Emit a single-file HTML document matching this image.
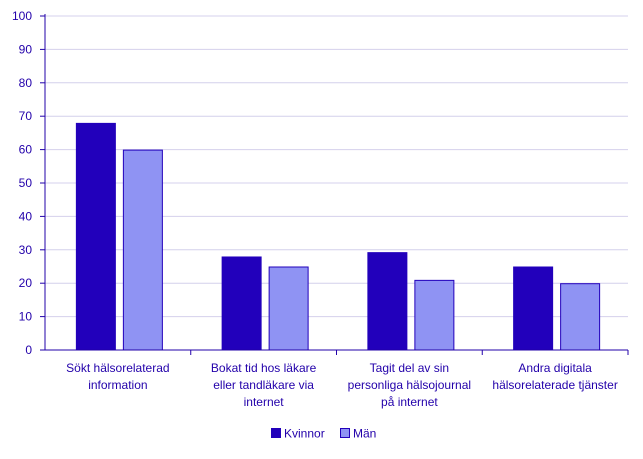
<!DOCTYPE html>
<html><head><meta charset="utf-8"><style>
body{margin:0;background:#fff;}
svg text{font-family:"Liberation Sans",sans-serif;font-size:12px;}
</style></head><body>
<svg id="chart" width="643" height="454" xmlns="http://www.w3.org/2000/svg"></svg>
<script>
const categories=[["Sökt hälsorelaterad","information"],["Bokat tid hos läkare","eller tandläkare via","internet"],["Tagit del av sin","personliga hälsojournal","på internet"],["Andra digitala","hälsorelaterade tjänster"]];
const kvinnor=[68,28,29.3,25];
const man=[60,25,21,20];
const yTicks=[0,10,20,30,40,50,60,70,80,90,100];
const seriesNames=["Kvinnor","Män"];
const svg=document.getElementById('chart');
const NS="http://www.w3.org/2000/svg";
const x0=45,x1=628,yTop=16,yBot=350;
const y=v=>yBot-(v/100)*(yBot-yTop);
const bw=(x1-x0)/categories.length;
function mk(tag,attrs,text){const e=document.createElementNS(NS,tag);for(const k in attrs)e.setAttribute(k,attrs[k]);if(text!==undefined)e.textContent=text;svg.appendChild(e);return e;}
yTicks.forEach(t=>{
  if(t>0){const g=mk('line',{x1:x0,x2:x1,y1:y(t),y2:y(t),stroke:'#d4d0ec','stroke-width':1});
  
  }
  const tk=mk('line',{x1:x0-5,x2:x0,y1:y(t),y2:y(t),stroke:'#2200aa'});
  
  
  const l=mk('text',{x:x0-13,y:y(t)+4,'text-anchor':'end',fill:'#2200aa'},t);
  
  
});
const ya=mk('line',{x1:x0,x2:x0,y1:yTop-2,y2:yBot,stroke:'#2200aa'});


categories.forEach((c,i)=>{
  const cx=x0+bw*(i+0.5);
  const b1=mk('rect',{x:cx-42,y:y(kvinnor[i]),width:40,height:yBot-y(kvinnor[i]),fill:'#2200bb'});
  
  
  const b2=mk('rect',{x:cx+5.5,y:y(man[i])+0.5,width:39,height:yBot-y(man[i])-0.5,fill:'#8f93f3',stroke:'#2200bb','stroke-width':1});
  
  
  const tk=mk('line',{x1:x0+bw*(i+1),x2:x0+bw*(i+1),y1:yBot,y2:yBot+5,stroke:'#2200aa'});
  
  
  const t=mk('text',{x:cx,y:372,'text-anchor':'middle',fill:'#2200aa'});
  
  
  c.forEach((ln,j)=>{const s=document.createElementNS(NS,'tspan');s.setAttribute('x',cx);s.setAttribute('dy',j?17:0);s.textContent=ln;t.appendChild(s);});
});
const xa=mk('line',{x1:x0,x2:x1,y1:yBot,y2:yBot,stroke:'#2200aa'});


const lx=[271,340],lc=['#2200bb','#8f93f3'];
seriesNames.forEach((n,i)=>{
  const r=mk('rect',{x:lx[i]+0.5,y:428.5,width:9,height:9,fill:lc[i],stroke:'#2200bb'});
  
  
  const t=mk('text',{x:lx[i]+13,y:437.5,fill:'#2200aa'},n);
  
  
});
</script>
</body></html>
